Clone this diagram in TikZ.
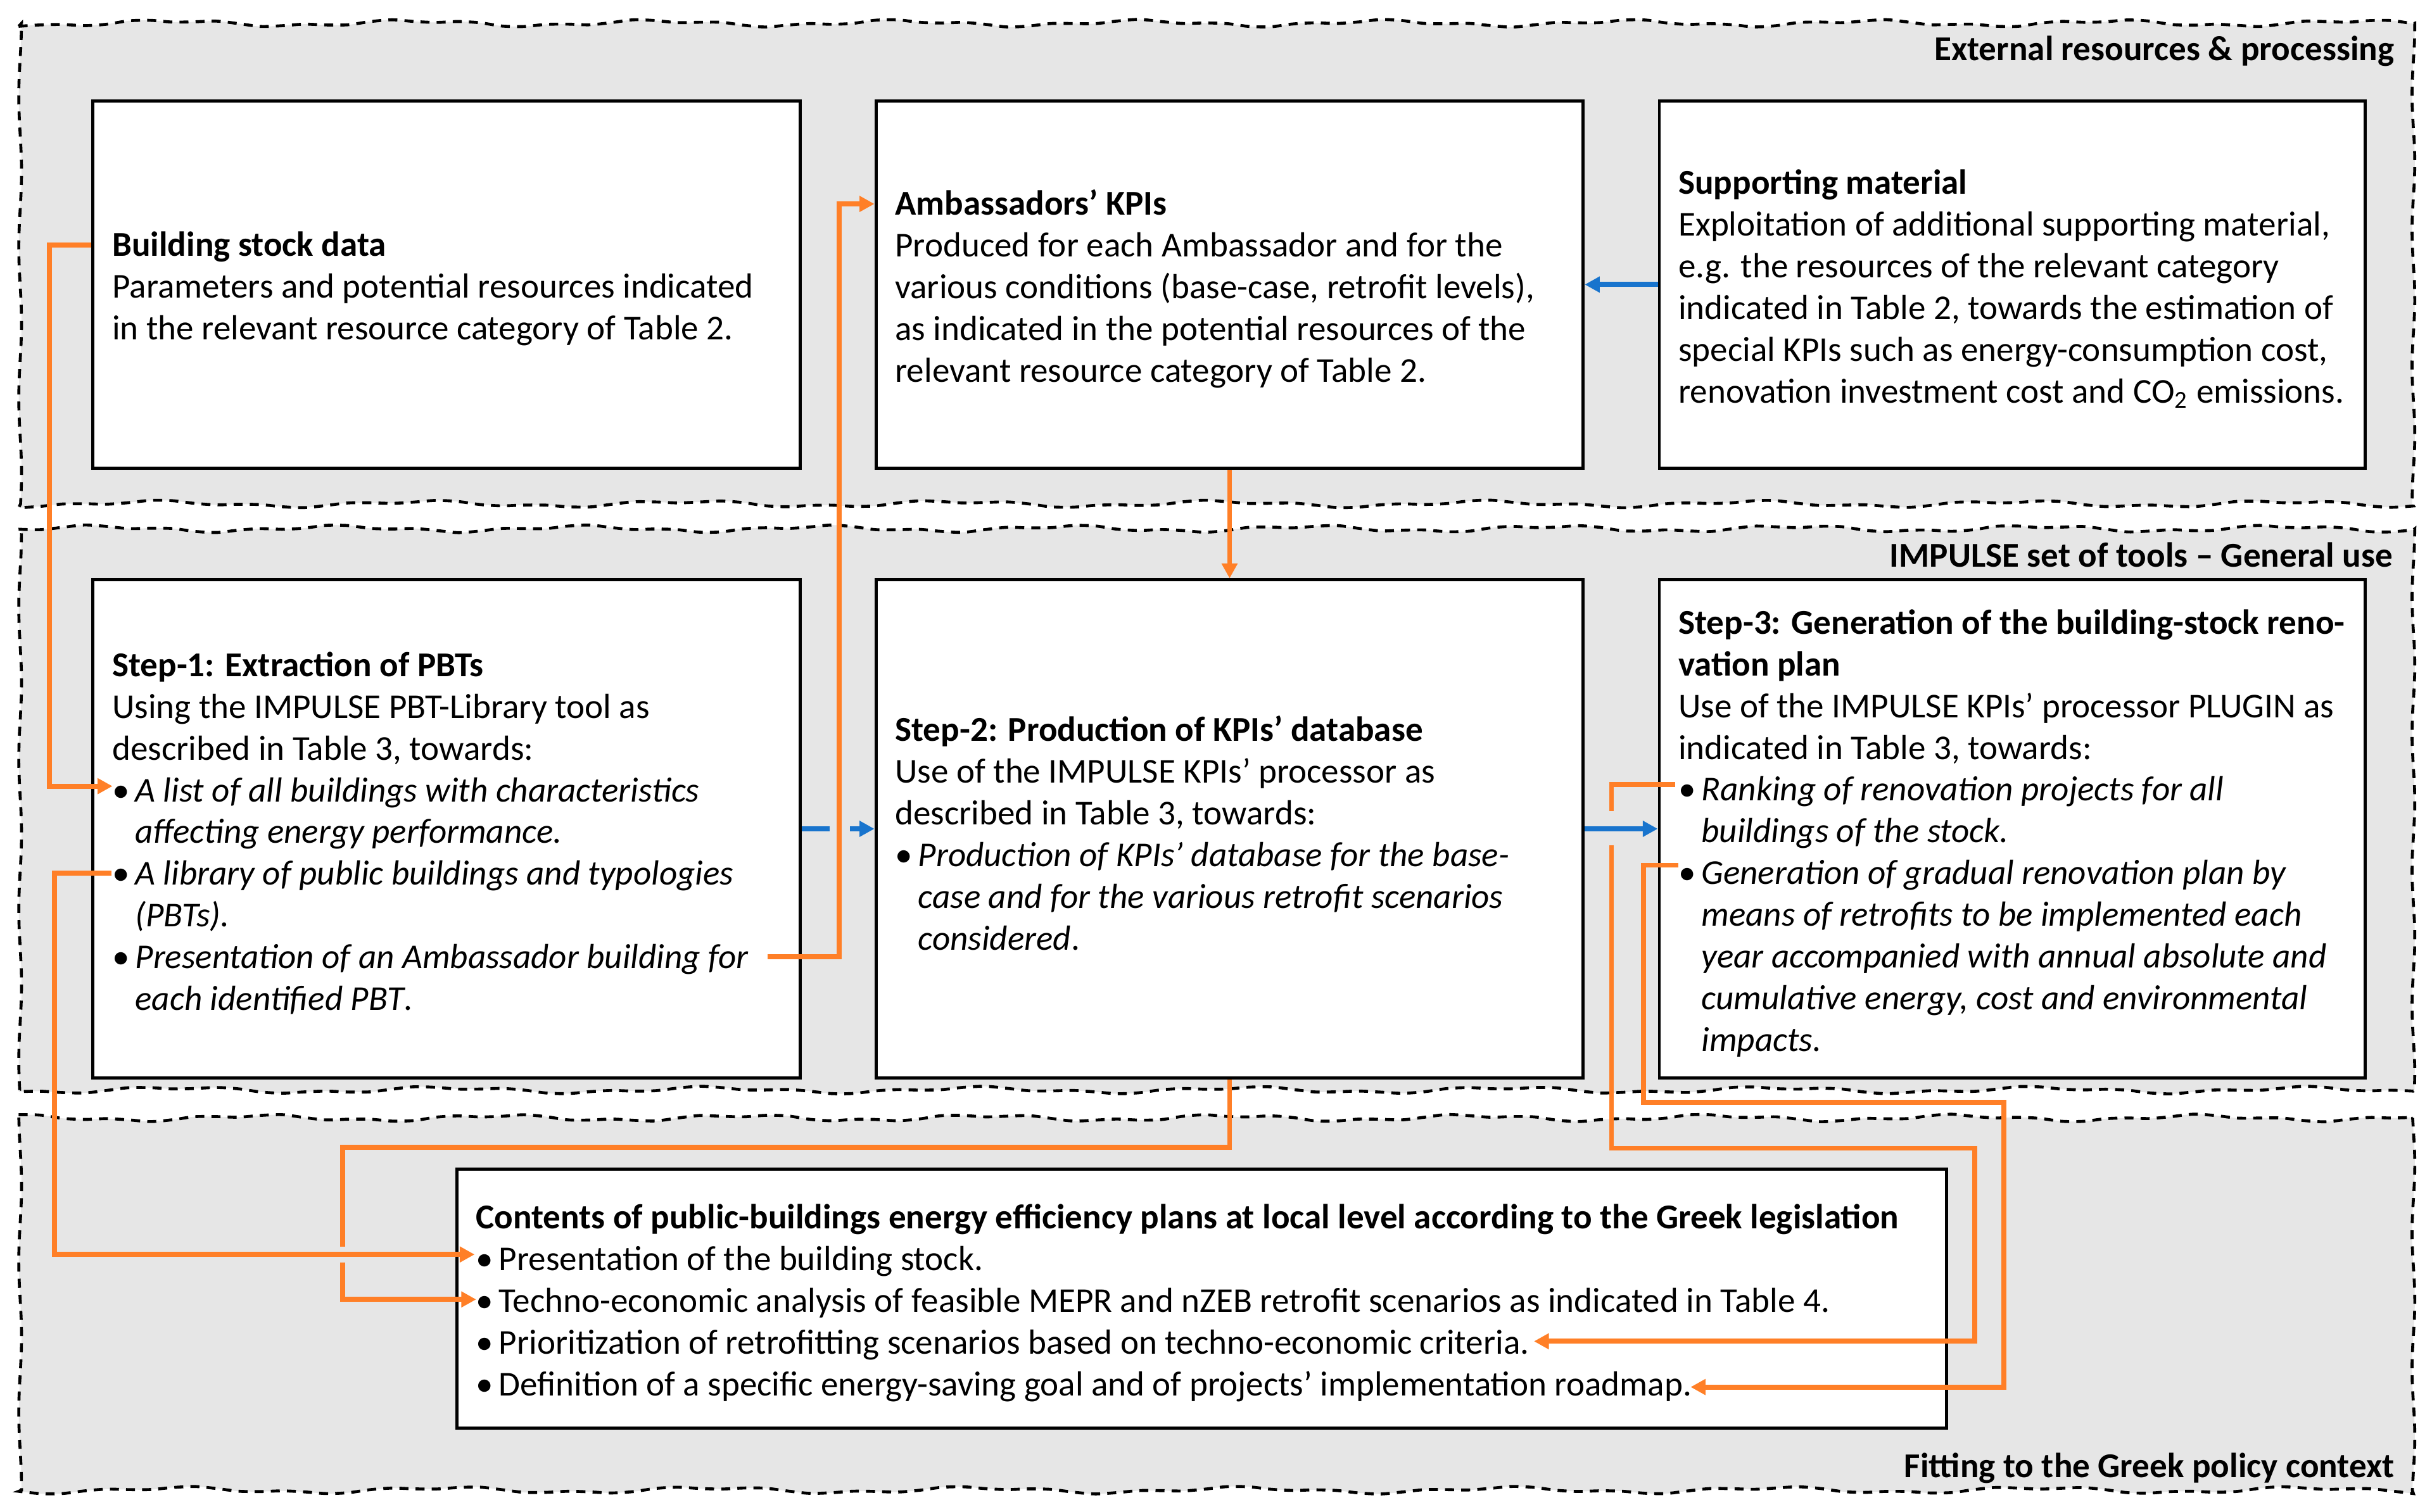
\documentclass[tikz,border=0pt]{standalone}
\usepackage{fontspec}
\setmainfont{Carlito}
\usetikzlibrary{arrows.meta,calc}
\definecolor{bandgray}{HTML}{E6E6E6}
\definecolor{ora}{HTML}{FF7F27}
\definecolor{blu}{HTML}{1874CD}
\newcommand{\bul}{\makebox[7.4pt][l]{\textup{•}}}
\newcommand{\cnt}{\hspace*{7.4pt}}
\newcommand{\wband}[3]{%
  \path[band] plot[smooth, domain=12:1556, samples=110] (\x, {#1 + 1.6*sin(2.3*\x+#3) + 0.9*sin(6.7*\x+2*#3)})
  -- plot[smooth, domain=#1:#2, samples=25] ({1556+0.9*sin(4.1*\x+#3)}, \x)
  -- plot[smooth, domain=12:1556, samples=110] ({1568-\x}, {#2 + 1.6*sin(2.1*(1568-\x)+3*#3) + 0.9*sin(5.9*(1568-\x)+#3)})
  -- plot[smooth, domain=#1:#2, samples=25] ({13+0.9*sin(3.7*(#1+#2-\x)+2*#3)}, {#1+#2-\x})
  -- cycle;}
\begin{document}
\begin{tikzpicture}[x=0.5pt, y=-0.5pt,
  font=\fontsize{11.25}{13.45}\selectfont,
  band/.style={fill=bandgray, draw=black, line width=0.95pt, dash pattern=on 2.9pt off 2.3pt},
  box/.style={draw=black, line width=1pt, fill=white, inner sep=0pt},
  btxt/.style={anchor=west, align=left, inner sep=0pt},
  lbl/.style={anchor=east, inner sep=0pt, font=\fontsize{11.25}{13.45}\selectfont\bfseries},
  oline/.style={draw=ora, line width=1.6pt},
  oarr/.style={oline, -{Triangle[length=4.8pt,width=4.9pt]}},
  bline/.style={draw=blu, line width=1.6pt},
  barr/.style={bline, -{Triangle[length=4.8pt,width=4.9pt]}}]
\useasboundingbox[fill=white] (0,0) rectangle (1568,974.7);

% bands
\wband{15}{325}{20}
\wband{341}{703}{130}
\wband{721}{961}{250}

\node[lbl] (l1) at (1544,33) {External resources \& processing};
\node[lbl] (l2) at (1543,358) {IMPULSE set of tools – General use};
\node[lbl] (l3) at (1544,947) {Fitting to the Greek policy context};

% boxes
\node[box, minimum width=228pt, minimum height=118.5pt] (bsd) at (288,183.5) {};
\node[box, minimum width=228pt, minimum height=118.5pt] (amb) at (792.75,183.5) {};
\node[box, minimum width=227.6pt, minimum height=118.5pt] (sup) at (1297.4,183.5) {};
\node[box, minimum width=228pt, minimum height=160.5pt] (s1) at (288,534.5) {};
\node[box, minimum width=228pt, minimum height=160.5pt] (s2) at (792.75,534.5) {};
\node[box, minimum width=227.6pt, minimum height=160.5pt] (s3) at (1297.4,534.5) {};
\node[box, minimum width=480.25pt, minimum height=83.5pt] (con) at (774.75,837.5) {};

% texts
\node[btxt] (bsdt) at ($(bsd.west)+(13,2.8)$) {\textbf{Building stock data}\\
Parameters and potential resources indicated\\
in the relevant resource category of Table 2.};
\node[btxt] (ambt) at ($(amb.west)+(13,2.8)$) {\textbf{Ambassadors’ KPIs}\\
Produced for each Ambassador and for the\\
various conditions (base-case, retrofit levels),\\
as indicated in the potential resources of the\\
relevant resource category of Table 2.};
\node[btxt] (supt) at ($(sup.west)+(13,2.8)$) {\textbf{Supporting material}\\
Exploitation of additional supporting material,\\
e.g. the resources of the relevant category\\
indicated in Table 2, towards the estimation of\\
special KPIs such as energy-consumption cost,\\
renovation investment cost and CO\textsubscript{2} emissions.};
\node[btxt] (s1t) at ($(s1.west)+(13,2.8)$) {\textbf{Step-1: Extraction of PBTs}\\
Using the IMPULSE PBT-Library tool as\\
described in Table 3, towards:\\
\bul\textit{A list of all buildings with characteristics}\\
\cnt\textit{affecting energy performance.}\\
\bul\textit{A library of public buildings and typologies}\\
\cnt\textit{(PBTs).}\\
\bul\textit{Presentation of an Ambassador building for}\\
\cnt\textit{each identified PBT}.};
\node[btxt] (s2t) at ($(s2.west)+(13,2.8)$) {\textbf{Step-2: Production of KPIs’ database}\\
Use of the IMPULSE KPIs’ processor as\\
described in Table 3, towards:\\
\bul\textit{Production of KPIs’ database for the base-}\\
\cnt\textit{case and for the various retrofit scenarios}\\
\cnt\textit{considered}.};
\node[btxt] (s3t) at ($(s3.west)+(13,2.8)$) {\textbf{Step-3: Generation of the building-stock reno-}\\
\textbf{vation plan}\\
Use of the IMPULSE KPIs’ processor PLUGIN as\\
indicated in Table 3, towards:\\
\bul\textit{Ranking of renovation projects for all}\\
\cnt\textit{buildings of the stock.}\\
\bul\textit{Generation of gradual renovation plan by}\\
\cnt\textit{means of retrofits to be implemented each}\\
\cnt\textit{year accompanied with annual absolute and}\\
\cnt\textit{cumulative energy, cost and environmental}\\
\cnt\textit{impacts.}};
\node[btxt] (cont) at ($(con.west)+(13,2.8)$) {\textbf{Contents of public-buildings energy efficiency plans at local level according to the Greek legislation}\\
\bul Presentation of the building stock.\\
\bul Techno-economic analysis of feasible MEPR and nZEB retrofit scenarios as indicated in Table 4.\\
\bul Prioritization of retrofitting scenarios based on techno-economic criteria.\\
\bul Definition of a specific energy-saving goal and of projects’ implementation roadmap.};

% anchor points at bullets
\coordinate (s1b1) at (72.5,507);
\coordinate (s1b2) at (72,563);
\coordinate (s1b3) at (495,617);
\coordinate (s3b1) at (1080,506);
\coordinate (s3b2) at (1082,558);
\coordinate (cb1) at (306,809);
\coordinate (cb2) at (307,838);
\coordinate (cb3) at (989,865);
\coordinate (cb4) at (1090,894.5);

% connectors
\draw[barr] (sup.west) -- (amb.east);
\draw[bline] (s1.east) -- ++(18,0);
\draw[barr] ($(s1.east)+(31,0)$) -- (s2.west);
\draw[barr] (s2.east) -- (s3.west);

\draw[oarr] ($(bsd.west)+(0,-25.5)$) -| (32,507) -- (s1b1);
\draw[oarr] (s1b2) -| (35,809) -- (cb1);
\draw[oarr] (s1b3) -| (541,131.5) -- ($(amb.west)+(0,-52)$);
\draw[oarr] (amb.south) -- (s2.north);
\draw[oline] (s2.south) |- (221,740) -- (221,804);
\draw[oarr] (221,814) |- (cb2);
\draw[oline] (s3b1) -| (1039,523);
\draw[oarr] (1039,545) |- (1273,740.5) |- (cb3);
\draw[oarr] (s3b2) -| (1059.5,711) -| (1292,894.5) -- (cb4);
\end{tikzpicture}
\end{document}
